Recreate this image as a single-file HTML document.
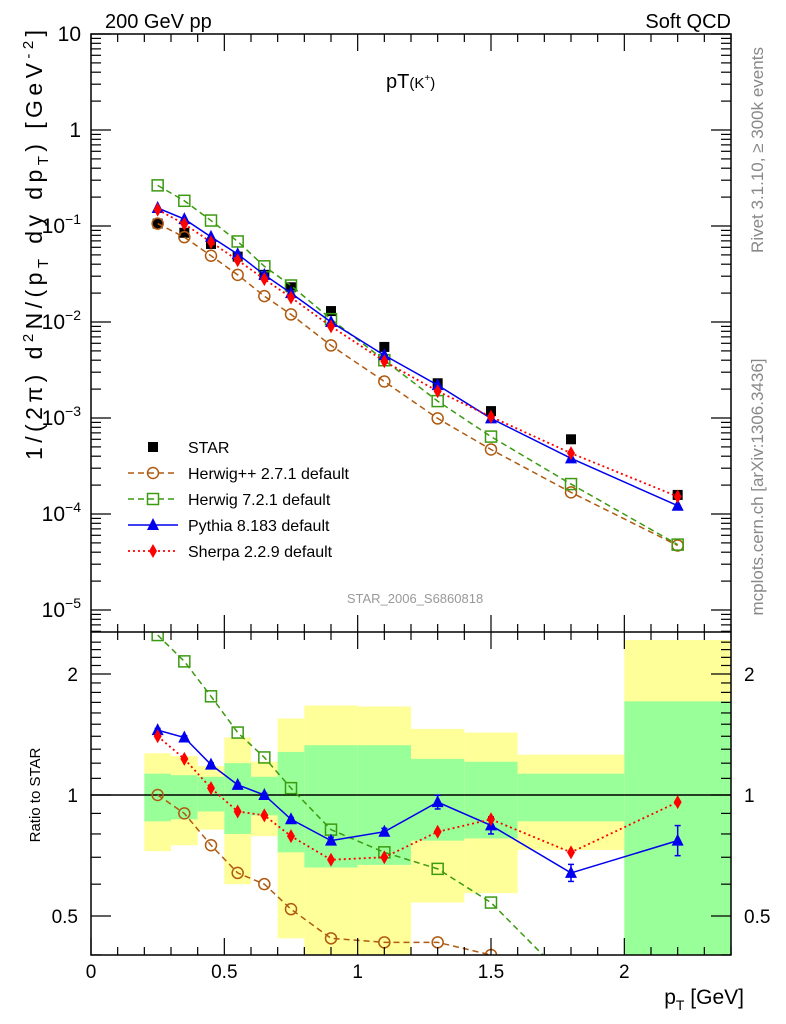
<!DOCTYPE html>
<html><head><meta charset="utf-8"><style>
body{margin:0;background:#fff}
svg{display:block;font-family:"Liberation Sans",sans-serif}
</style></head><body>
<svg id="c" width="786" height="1024" viewBox="0 0 786 1024" xmlns="http://www.w3.org/2000/svg">
<defs>
<clipPath id="cpMain"><rect x="91" y="34" width="640" height="598"/></clipPath>
<clipPath id="cpRatio"><rect x="91" y="632" width="640" height="323"/></clipPath>
</defs>
<g id="bands" clip-path="url(#cpRatio)"></g>
<g id="marks"></g>
<g id="axes"></g>
<text x="105" y="28" font-size="20">200 GeV pp</text>
<text x="731" y="28" font-size="20" text-anchor="end">Soft QCD</text>
<text x="386" y="88" font-size="20">pT<tspan font-size="15">(K</tspan><tspan font-size="10" dy="-7">+</tspan><tspan font-size="15" dy="7">)</tspan></text>
<text x="415" y="603" font-size="13" fill="#999" text-anchor="middle">STAR_2006_S6860818</text>
<text transform="translate(763,150) rotate(-90)" font-size="17" fill="#888" text-anchor="middle">Rivet 3.1.10, ≥ 300k events</text>
<text transform="translate(763,487) rotate(-90)" font-size="17" fill="#888" text-anchor="middle">mcplots.cern.ch [arXiv:1306.3436]</text>
<text transform="translate(42,460) rotate(-90)" font-size="23" textLength="430" lengthAdjust="spacing">1/(2π) d<tspan font-size="15" dy="-9">2</tspan><tspan dy="9">N/(p</tspan><tspan font-size="15" dy="6">T</tspan><tspan dy="-6"> dy dp</tspan><tspan font-size="15" dy="6">T</tspan><tspan dy="-6">) [GeV</tspan><tspan font-size="15" dy="-9">-2</tspan><tspan dy="9">]</tspan></text>
<text transform="translate(40,795) rotate(-90)" font-size="15" text-anchor="middle">Ratio to STAR</text>
<text x="744" y="1004" font-size="21" text-anchor="end">p<tspan font-size="14" dy="6">T</tspan><tspan dy="-6"> [GeV]</tspan></text>
<g id="legend"></g>
</svg>
<script>
const edges=[0.2,0.3,0.4,0.5,0.6,0.7,0.8,1.0,1.2,1.4,1.6,2.0,2.4];
const pt=[0.25,0.35,0.45,0.55,0.65,0.75,0.9,1.1,1.3,1.5,1.8,2.2];
const star=[0.106,0.085,0.065,0.048,0.031,0.023,0.013,0.0055,0.0023,0.00118,0.0006,0.000158];
const hwpp=[0.106,0.0765,0.049,0.031,0.0186,0.012,0.0057,0.0024,0.00099,0.00047,0.000168,0.000047];
const hw7=[0.265,0.183,0.114,0.069,0.038,0.024,0.0107,0.004,0.0015,0.00064,0.000205,0.000048];
const py8=[0.154,0.118,0.077,0.051,0.031,0.02,0.01,0.0045,0.0022,0.00099,0.00038,0.000122];
const sh=[0.148,0.105,0.068,0.044,0.028,0.018,0.009,0.0039,0.0019,0.00103,0.00043,0.000152];
const rHwpp=[1.0,0.90,0.75,0.64,0.60,0.52,0.44,0.43,0.43,0.40,0.28,0.30];
const rHw7=[2.5,2.15,1.76,1.43,1.24,1.04,0.82,0.72,0.655,0.54,0.34,0.31];
const rPy8=[1.45,1.39,1.19,1.06,1.0,0.87,0.77,0.81,0.96,0.84,0.64,0.77];
const rPy8Err=[0.01,0.01,0.01,0.01,0.01,0.01,0.02,0.02,0.04,0.05,0.05,0.09];
const rSh=[1.40,1.23,1.04,0.91,0.89,0.79,0.69,0.70,0.81,0.87,0.72,0.96];
const greenHi=[1.13,1.12,1.11,1.20,1.11,1.28,1.33,1.33,1.23,1.21,1.13,1.71];
const greenLo=[0.86,0.87,0.91,0.80,0.89,0.72,0.66,0.67,0.77,0.78,0.86,0.3];
const yelHi=[1.27,1.25,1.18,1.39,1.21,1.55,1.67,1.66,1.46,1.43,1.26,2.43];
const yelLo=[0.725,0.75,0.82,0.60,0.79,0.44,0.3,0.3,0.54,0.57,0.73,0.3];
const xTicks=[0,0.5,1,1.5,2];
const xTickLabels=["0","0.5","1","1.5","2"];
const yExps=[1,0,-1,-2,-3,-4,-5];
const rTicks=[0.5,1,2];
const rTickLabels=["0.5","1","2"];

const NS="http://www.w3.org/2000/svg";
const X0=91,X1=731,YT=34,YM=632,YB=955;
const xs=v=>X0+(v)*(X1-X0)/2.4;
const ys=v=>YT+(1-Math.log10(v))*96;
const yr=v=>795-121*Math.log2(v);
function mk(tag,attrs,parent){const e=document.createElementNS(NS,tag);for(const k in attrs)e.setAttribute(k,attrs[k]);parent.appendChild(e);return e;}
const bands=document.getElementById('bands'),marks=document.getElementById('marks'),axes=document.getElementById('axes'),leg=document.getElementById('legend');

for(let i=0;i<pt.length;i++){
 const a=xs(edges[i]),b=xs(edges[i+1]);
 let r=mk('rect',{x:a,y:yr(yelHi[i]),width:b-a,height:yr(yelLo[i])-yr(yelHi[i]),fill:'#ffff99'},bands);
 
 
 r=mk('rect',{x:a,y:yr(greenHi[i]),width:b-a,height:yr(greenLo[i])-yr(greenHi[i]),fill:'#99ff99'},bands);
 
 
}
mk('line',{x1:X0,x2:X1,y1:yr(1),y2:yr(1),stroke:'#000','stroke-width':1.5},bands);

function marker(type,color,cx,cy,g){
 let e;
 if(type==='sq') e=mk('rect',{x:cx-5,y:cy-5,width:10,height:10,fill:'#000'},g);
 if(type==='osq') e=mk('rect',{x:cx-5.5,y:cy-5.5,width:11,height:11,fill:'none',stroke:color,'stroke-width':1.5},g);
 if(type==='oc') e=mk('circle',{cx:cx,cy:cy,r:5.5,fill:'none',stroke:color,'stroke-width':1.5},g);
 if(type==='tri') e=mk('path',{d:`M${cx} ${cy-7}L${cx+6} ${cy+5}L${cx-6} ${cy+5}Z`,fill:color},g);
 if(type==='dia') e=mk('path',{d:`M${cx} ${cy-7}L${cx+4} ${cy}L${cx} ${cy+7}L${cx-4} ${cy}Z`,fill:color},g);
 return e;
}
const series=[
 {name:'herwig-pp',label:'Herwig++ 2.7.1 default',v:hwpp,r:rHwpp,c:'#b05a10',m:'oc',dash:'6,4',w:1.5},
 {name:'herwig-7',label:'Herwig 7.2.1 default',v:hw7,r:rHw7,c:'#3a9a10',m:'osq',dash:'6,4',w:1.5},
 {name:'pythia-8',label:'Pythia 8.183 default',v:py8,r:rPy8,c:'#0000ee',m:'tri',dash:'',w:1.5},
 {name:'sherpa',label:'Sherpa 2.2.9 default',v:sh,r:rSh,c:'#ff0000',m:'dia',dash:'2,3',w:1.8}
];
const gs=mk('g',{},marks);


star.forEach((v,i)=>marker('sq','#000',xs(pt[i]),ys(v),gs));
series.forEach(s=>{
 const gm=mk('g',{'clip-path':'url(#cpMain)'},marks);
 
 
 mk('polyline',{points:s.v.map((v,i)=>xs(pt[i])+','+ys(v)).join(' '),fill:'none',stroke:s.c,'stroke-width':s.w,'stroke-dasharray':s.dash},gm);
 s.v.forEach((v,i)=>marker(s.m,s.c,xs(pt[i]),ys(v),gm));
 const gr=mk('g',{'clip-path':'url(#cpRatio)'},marks);
 
 
 mk('polyline',{points:s.r.map((v,i)=>xs(pt[i])+','+yr(v)).join(' '),fill:'none',stroke:s.c,'stroke-width':s.w,'stroke-dasharray':s.dash},gr);
 if(s.name==='pythia-8') s.r.forEach((v,i)=>{const x=xs(pt[i]);const a=yr(v*(1+rPy8Err[i])),b=yr(v/(1+rPy8Err[i]));
  mk('line',{x1:x,x2:x,y1:a,y2:b,stroke:s.c,'stroke-width':1.5},gr);
  mk('line',{x1:x-3,x2:x+3,y1:a,y2:a,stroke:s.c,'stroke-width':1.5},gr);
  mk('line',{x1:x-3,x2:x+3,y1:b,y2:b,stroke:s.c,'stroke-width':1.5},gr);});
 s.r.forEach((v,i)=>marker(s.m,s.c,xs(pt[i]),yr(v),gr));
});
let ly=447;
let le=mk('g',{},leg);


marker('sq','#000',153,ly,le);
mk('text',{x:188,y:ly+6,'font-size':16},le).textContent='STAR';
series.forEach((s,k)=>{
 const y=ly+26*(k+1);
 const g=mk('g',{},leg);
 
 
 mk('line',{x1:128,x2:178,y1:y,y2:y,stroke:s.c,'stroke-width':s.w,'stroke-dasharray':s.dash},g);
 marker(s.m,s.c,153,y,g);
 mk('text',{x:188,y:y+6,'font-size':16},g).textContent=s.label;
});
mk('rect',{x:X0,y:YT,width:X1-X0,height:YB-YT,fill:'none',stroke:'#000','stroke-width':1.5},axes);
mk('line',{x1:X0,x2:X1,y1:YM,y2:YM,stroke:'#000','stroke-width':1.5},axes);
for(let t=0;t<=2.4001;t+=0.1){
 const x=xs(t);const maj=Math.abs(t*2-Math.round(t*2))<1e-6;const L=maj?17:8;
 [[YT,1],[YM,-1],[YM,1],[YB,-1]].forEach(([y,d])=>mk('line',{x1:x,x2:x,y1:y,y2:y+d*L,stroke:'#000','stroke-width':1.2},axes));
}
xTicks.forEach((t,i)=>{const e=mk('text',{x:xs(t),y:978,'font-size':19,'text-anchor':'middle'},axes);e.textContent=xTickLabels[i];
 
 });
yExps.forEach(p=>{
 const y=ys(Math.pow(10,p));
 [[X0,1],[X1,-1]].forEach(([x,d])=>mk('line',{x1:x,x2:x+d*20,y1:y,y2:y,stroke:'#000','stroke-width':1.2},axes));
 for(let m=2;m<=9;m++){const yy=ys(m*Math.pow(10,p-1));if(yy<=YM)[[X0,1],[X1,-1]].forEach(([x,d])=>mk('line',{x1:x,x2:x+d*10,y1:yy,y2:yy,stroke:'#000','stroke-width':1.2},axes));}
 const t=mk('text',{x:81,y:y+7,'font-size':21,'text-anchor':'end'},axes);
 
 
 if(p===1)t.textContent='10';else if(p===0)t.textContent='1';
 else{t.appendChild(document.createTextNode('10'));const s=mk('tspan',{dy:-9,'font-size':14},t);s.textContent=String(p).replace('-','−');}
});
for(let v=0.4;v<=2.5;v+=0.1){const y=yr(v);const maj=rTicks.some(r=>Math.abs(r-v)<1e-6);
 [[X0,1],[X1,-1]].forEach(([x,d])=>mk('line',{x1:x,x2:x+d*(maj?20:10),y1:y,y2:y,stroke:'#000','stroke-width':1.2},axes));}
rTicks.forEach((r,i)=>{[[78,'end'],[744,'start']].forEach(([x,a])=>{const e=mk('text',{x:x,y:yr(r)+7,'font-size':19,'text-anchor':a},axes);e.textContent=rTickLabels[i];
 
 });});
</script>
</body></html>
